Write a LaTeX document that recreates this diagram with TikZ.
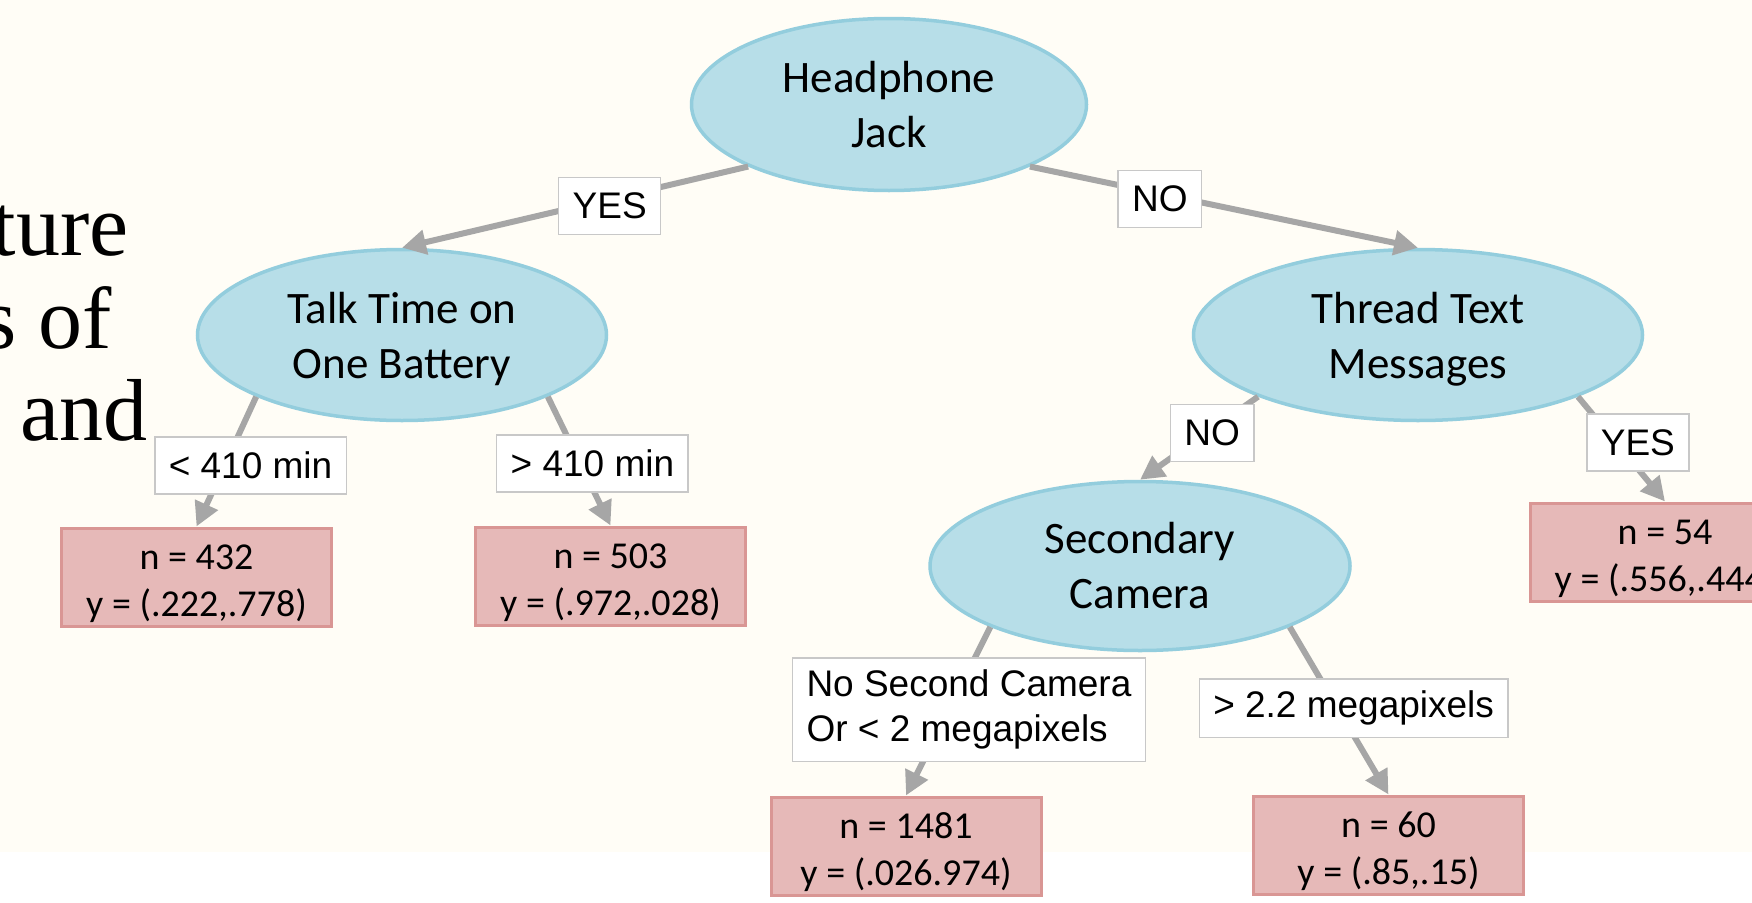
\documentclass[tikz,border=0pt]{standalone}
\usepackage{fontspec}
\setmainfont{Carlito}
\newfontfamily\labelfont{Liberation Sans}
\newfontfamily\slidefont{Liberation Serif}
\usetikzlibrary{shapes.geometric, arrows.meta}

\definecolor{cream}{HTML}{FFFDF6}
\definecolor{nodeblue}{HTML}{B7DEE8}
\definecolor{nodeborder}{HTML}{93CDDD}
\definecolor{leafpink}{HTML}{E6B9B8}
\definecolor{leafborder}{HTML}{D99694}
\definecolor{edgegray}{HTML}{A6A6A6}
\definecolor{lblborder}{HTML}{C8C8C8}

\newcommand{\splitstrut}{\rule{0pt}{40pt}}
\newcommand{\leafstrut}{\rule{0pt}{38pt}}

\begin{document}
\begin{tikzpicture}[x=1pt, y=-1pt,
    splitnode/.style={ellipse, draw=nodeborder, fill=nodeblue, line width=3.5pt, inner sep=0pt, align=center, font=\fontsize{45}{55}\selectfont},
    leafbox/.style={rectangle, draw=leafborder, fill=leafpink, line width=3pt, minimum width=270pt, minimum height=98pt, inner sep=0pt, align=center, font=\fontsize{38}{47}\selectfont},
    edgelbl/.style={rectangle, draw=lblborder, fill=white, line width=1.5pt, inner xsep=14pt, inner ysep=12pt, minimum height=57pt, font=\labelfont\fontsize{37}{45}\selectfont},
    branch/.style={draw=edgegray, line width=6pt, -{Triangle[length=24pt, width=24pt]}}
]
    \useasboundingbox (0,0) rectangle (1752,902);
    \clip (0,0) rectangle (1752,902);
    \fill[white] (0,0) rectangle (1752,902);
    \fill[cream] (0,0) rectangle (1752,852);

    % Slide text behind the tree
    \node[anchor=base east, inner sep=0pt, font=\slidefont\fontsize{88}{93}\selectfont] (slidea) at (129,255) {ture};
    \node[anchor=base east, inner sep=0pt, font=\slidefont\fontsize{88}{93}\selectfont] (slideb) at (112,348) {s of};
    \node[anchor=base east, inner sep=0pt, font=\slidefont\fontsize{88}{93}\selectfont] (slidec) at (148,440) {and};

    % Split nodes
    \node[splitnode, minimum width=395pt, minimum height=172pt] (headjack) at (889,104.5) {Headphone\\Jack};
    \node[splitnode, minimum width=409pt, minimum height=171pt] (talktime) at (402,335) {\splitstrut Talk Time on\\One Battery};
    \node[splitnode, minimum width=449pt, minimum height=171pt] (threadtext) at (1418,335) {\splitstrut Thread Text\\Messages};
    \node[splitnode, minimum width=420pt, minimum height=169pt] (seccamera) at (1140,566) {Secondary\\Camera};

    % Leaf nodes
    \node[leafbox] (leafa) at (196.5,577) {\leafstrut n = 432\\y = (.222,.778)};
    \node[leafbox] (leafb) at (610.5,576) {\leafstrut n = 503\\y = (.972,.028)};
    \node[leafbox] (leafc) at (906,846) {\leafstrut n = 1481\\y = (.026.974)};
    \node[leafbox] (leafd) at (1388.5,845) {\leafstrut n = 60\\y = (.85,.15)};
    \node[leafbox] (leafe) at (1665,552) {\leafstrut n = 54\\y = (.556,.444)};

    % Arrows
    \draw[branch] (headjack.south west) -- node[edgelbl, pos=.4, yshift=-7pt] (yesa) {YES} (talktime.north);
    \draw[branch] (headjack.south east) -- node[edgelbl, pos=.335, yshift=-5pt] (noa) {NO} (threadtext.north);
    \draw[branch] (talktime.south west) -- node[edgelbl, pos=.53, xshift=26pt] (lessmin) {< 410 min} (leafa.north);
    \draw[branch] (talktime.south east) -- node[edgelbl, pos=.52, xshift=12pt] (moremin) {> 410 min} (leafb.north);
    \draw[branch] (threadtext.south west) -- node[edgelbl, pos=.44, xshift=6pt] (nob) {NO} (seccamera.north);
    \draw[branch] (threadtext.south east) -- node[edgelbl, pos=.435, xshift=22pt] (yesb) {YES} (leafe.north);
    \draw[branch] (seccamera.south west) -- node[edgelbl, align=left, pos=.49, xshift=20pt] (nocam) {No Second Camera\\Or < 2 megapixels} (leafc.north);
    \draw[branch] (seccamera.south east) -- node[edgelbl, pos=.485, xshift=16pt] (moremp) {> 2.2 megapixels} (leafd.north);

\end{tikzpicture}
\end{document}
